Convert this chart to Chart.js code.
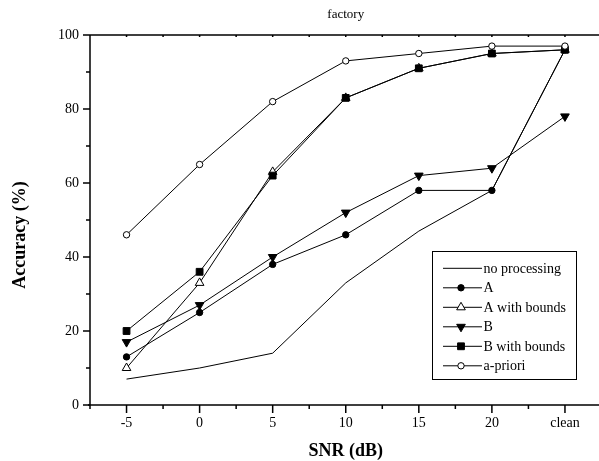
<!DOCTYPE html>
<html>
<head>
<meta charset="utf-8">
<script src="https://cdn.jsdelivr.net/npm/chart.js@4.4.0/dist/chart.umd.min.js"></script>
<style>
  html, body { margin: 0; padding: 0; background: #fff; overflow: hidden; }
  #wrap { width: 612px; height: 461px; }
</style>
</head>
<body>
<div id="wrap"><canvas id="chartOne" width="612" height="461"></canvas></div>
<script>
// data
const categories = ['-5', '0', '5', '10', '15', '20', 'clean'];
const seriesNames = ['no processing', 'A', 'A with bounds', 'B', 'B with bounds', 'a-priori'];
const noProcessing = [7, 10, 14, 33, 47, 58, 96];
const seriesA = [13, 25, 38, 46, 58, 58, 96];
const seriesABounds = [10, 33, 63, 83, 91, 95, 96];
const seriesB = [17, 27, 40, 52, 62, 64, 78];
const seriesBBounds = [20, 36, 62, 83, 91, 95, 96];
const aPriori = [46, 65, 82, 93, 95, 97, 97];
const yTicks = [0, 20, 40, 60, 80, 100];

const serif = '"Liberation Serif", "Times New Roman", serif';

// lower order = drawn on top
const line = (label, data, pointStyle, radius, fill, rotation, order) => ({
    label: label,
    data: data,
    order: order,
    borderColor: '#000',
    borderWidth: 1,
    tension: 0,
    fill: false,
    pointStyle: pointStyle || 'circle',
    pointRadius: radius,
    pointRotation: rotation || 0,
    pointBackgroundColor: fill,
    pointBorderColor: '#000',
    pointBorderWidth: 1
});

const datasets = [
    line(seriesNames[0], noProcessing, 'circle', 0, '#000', 0, 5),
    line(seriesNames[1], seriesA, 'circle', 3.2, '#000', 0, 4),
    line(seriesNames[2], seriesABounds, 'triangle', 5, '#fff', 0, 3),
    line(seriesNames[3], seriesB, 'triangle', 5, '#000', 180, 2),
    line(seriesNames[4], seriesBBounds, 'rect', 4.8, '#000', 0, 1),
    line(seriesNames[5], aPriori, 'circle', 3.2, '#fff', 0, 0)
];

// axes frame, tick marks, rotated y title and the boxed legend
const framePlugin = {
    id: 'framePlugin',
    afterDraw(chart) {
        const ctx = chart.ctx;
        const area = chart.chartArea;
        const xs = chart.scales.x;
        const ys = chart.scales.y;
        ctx.save();
        ctx.strokeStyle = '#000';
        ctx.lineWidth = 1.5;
        ctx.beginPath();
        ctx.moveTo(area.left, area.top); ctx.lineTo(chart.width, area.top);
        ctx.moveTo(area.left, area.top); ctx.lineTo(area.left, area.bottom + 4);
        ctx.moveTo(area.left - 2, area.bottom); ctx.lineTo(chart.width, area.bottom);
        ctx.stroke();

        ctx.beginPath();
        for (let v = 0; v <= 100; v += 10) {
            const py = ys.getPixelForValue(v);
            const len = v % 20 === 0 ? 7 : 4;
            ctx.moveTo(area.left - len, py); ctx.lineTo(area.left, py);
        }
        for (let i = 0; i < categories.length; i++) {
            const px = xs.getPixelForValue(i);
            ctx.moveTo(px, area.bottom); ctx.lineTo(px, area.bottom + 8);
            ctx.moveTo(px, area.top); ctx.lineTo(px, area.top + 2);
            const nx = i < categories.length - 1 ? xs.getPixelForValue(i + 1) : px + (px - xs.getPixelForValue(i - 1));
            const mx = (px + nx) / 2;
            ctx.moveTo(mx, area.bottom); ctx.lineTo(mx, area.bottom + 4);
            ctx.moveTo(mx, area.top); ctx.lineTo(mx, area.top + 2);
        }
        ctx.stroke();

        // y title
        ctx.fillStyle = '#000';
        ctx.font = 'bold 18px ' + serif;
        ctx.textAlign = 'center';
        ctx.textBaseline = 'middle';
        ctx.translate(20, (area.top + area.bottom) / 2 + 15);
        ctx.rotate(-Math.PI / 2);
        ctx.fillText('Accuracy (%)', 0, 0);
        ctx.setTransform(chart.currentDevicePixelRatio, 0, 0, chart.currentDevicePixelRatio, 0, 0);

        // legend
        ctx.lineWidth = 1;
        ctx.fillStyle = '#fff';
        ctx.fillRect(432.5, 251.5, 144, 128);
        ctx.strokeRect(432.5, 251.5, 144, 128);
        ctx.font = '14px ' + serif;
        ctx.textAlign = 'left';
        datasets.forEach((ds, i) => {
            const cy = 268.3 + i * 19.5;
            ctx.strokeStyle = '#000';
            ctx.lineWidth = 1;
            ctx.beginPath();
            ctx.moveTo(443, cy); ctx.lineTo(482, cy);
            ctx.stroke();
            if (ds.pointRadius > 0) {
                ctx.fillStyle = ds.pointBackgroundColor;
                Chart.helpers.drawPoint(ctx, {
                    pointStyle: ds.pointStyle,
                    radius: ds.pointRadius,
                    rotation: ds.pointRotation,
                    borderWidth: 1
                }, 461, cy);
            }
            ctx.fillStyle = '#000';
            ctx.fillText(ds.label, 483.5, cy + 1);
        });
        ctx.restore();
    }
};

var chartOne = document.getElementById('chartOne');
var myChart = new Chart(chartOne, {
    type: 'line',
    data: {
        labels: categories,
        datasets: datasets
    },
    options: {
        responsive: false,
        animation: false,
        layout: { padding: { left: 0, right: 10.5, top: 0, bottom: 0 } },
        plugins: {
            legend: { display: false },
            tooltip: { enabled: false },
            title: {
                display: true,
                text: 'factory',
                fullSize: false,
                color: '#000',
                font: { family: serif, size: 13, weight: 'normal', lineHeight: 1.2 },
                padding: { top: 7, bottom: 12.4 }
            }
        },
        scales: {
            x: {
                type: 'category',
                offset: true,
                grid: { display: false, drawTicks: false },
                border: { display: false },
                ticks: { color: '#000', font: { family: serif, size: 14 }, padding: 10, autoSkip: false, maxRotation: 0 },
                title: {
                    display: true,
                    text: 'SNR (dB)',
                    color: '#000',
                    font: { family: serif, size: 18, weight: 'bold', lineHeight: 1 },
                    padding: { top: 0, bottom: 1 }
                },
                afterFit: (scale) => { scale.height = 56; }
            },
            y: {
                min: 0,
                max: 100,
                grid: { display: false, drawTicks: false },
                border: { display: false },
                afterBuildTicks: (scale) => { scale.ticks = yTicks.map(v => ({ value: v })); },
                ticks: { color: '#000', font: { family: serif, size: 14 }, padding: 11 },
                afterFit: (scale) => { scale.width = 90; }
            }
        }
    },
    plugins: [framePlugin]
});
</script>
</body>
</html>
